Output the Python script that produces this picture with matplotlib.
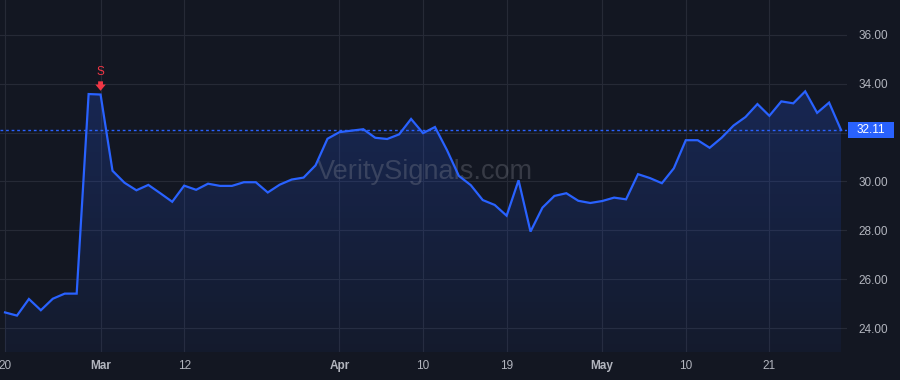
import matplotlib.pyplot as plt
import matplotlib.transforms as mtransforms
from matplotlib.patches import Rectangle
import numpy as np
import pandas as pd

# Trading days 2024-02-20 .. 2024-05-30 (US market, Good Friday and Memorial Day closed)
holidays = ["2024-03-29", "2024-05-27"]
dates = pd.bdate_range("2024-02-20", "2024-05-30", freq="C", holidays=holidays)

prices = [
    24.64, 24.51, 25.19, 24.73, 25.20, 25.41, 25.41, 33.58, 33.56, 30.44,
    29.95, 29.64, 29.86, 29.52, 29.17, 29.83, 29.66, 29.91, 29.82, 29.82,
    29.97, 29.97, 29.55, 29.87, 30.08, 30.16, 30.66, 31.75, 32.02, 32.08,
    32.14, 31.79, 31.74, 31.93, 32.56, 31.98, 32.23, 31.29, 30.23, 29.85,
    29.24, 29.04, 28.60, 30.05, 27.95, 28.93, 29.41, 29.52, 29.21, 29.12,
    29.20, 29.34, 29.27, 30.30, 30.14, 29.93, 30.54, 31.69, 31.69, 31.38,
    31.79, 32.29, 32.64, 33.17, 32.69, 33.28, 33.20, 33.69, 32.81, 33.23,
    32.11,
]

tick_dates = ["2024-02-20", "2024-03-01", "2024-03-12", "2024-04-01", "2024-04-10",
              "2024-04-19", "2024-05-01", "2024-05-10", "2024-05-21"]
tick_labels = ["20", "Mar", "12", "Apr", "10", "19", "May", "10", "21"]
month_labels = {"Mar", "Apr", "May"}

y_ticks = [24, 26, 28, 30, 32, 34, 36]

signal_date = "2024-03-01"
signal_text = "S"
watermark = "VeritySignals.com"

BG = "#131722"
GRID = "#262a36"
LINE = "#2962ff"
TEXT = "#b2b5be"
RED = "#f23645"

plt.rcParams["font.family"] = ["Liberation Sans", "DejaVu Sans"]

x = np.arange(len(prices))
y = np.array(prices)
last = prices[-1]

fig = plt.figure(figsize=(9, 3.8), dpi=100, facecolor=BG)
ax = fig.add_axes([0, 28 / 380, 847 / 900, 352 / 380])
ax.set_facecolor(BG)

ymin, ymax = 23.02, 37.43
ax.set_xlim(-0.42, 70.5)
ax.set_ylim(ymin, ymax)

# gradient fill under the line
grad = np.linspace(0, 1, 256).reshape(-1, 1)
rgba = np.zeros((256, 1, 4))
rgba[..., 0] = 0.16
rgba[..., 1] = 0.38
rgba[..., 2] = 1.0
rgba[..., 3] = 0.05 + 0.17 * grad
poly = ax.fill_between(x, y, ymin, color="none", lw=0)
img = ax.imshow(rgba, aspect="auto", extent=[x[0], x[-1], ymin, y.max()],
                origin="lower", zorder=1)
img.set_clip_path(poly.get_paths()[0], transform=ax.transData)

ax.plot(x, y, color=LINE, lw=1.6, zorder=3, solid_joinstyle="miter")

# last price line and label (the label box hides the tick label under it)
ax.axhline(last, color=LINE, lw=1, ls=(0, (2, 2)), zorder=2)
blend = mtransforms.blended_transform_factory(ax.transAxes, ax.transData)
box_h = 16 / 24.42
ax.add_patch(Rectangle((1.001, last - box_h / 2), 46 / 847, box_h, transform=blend,
                       fc=LINE, ec="none", clip_on=False, zorder=6))
ax.text(1.001 + 23 / 847, last, f"{last:.2f}", transform=blend,
        ha="center", va="center", color="white", fontsize=8.5, zorder=7)

# sell signal
sx = dates.get_loc(pd.Timestamp(signal_date))
ax.annotate("", xy=(sx, prices[sx]), xytext=(0, 9.5),
            textcoords="offset points", xycoords="data",
            arrowprops=dict(arrowstyle="simple,head_width=0.75,head_length=0.45,tail_width=0.35",
                            color=RED, lw=0, shrinkA=0, shrinkB=2.7))
ax.annotate(signal_text, xy=(sx, prices[sx]), xytext=(0, 12),
            textcoords="offset points", ha="center", va="bottom",
            color=RED, fontsize=8.5)

# watermark
ax.text(0.502, 0.511, watermark, transform=ax.transAxes, ha="center", va="center",
        color="#9598a1", alpha=0.28, fontsize=19.5, zorder=2)

# axes styling
tick_pos = [dates.get_loc(pd.Timestamp(d)) for d in tick_dates]
ax.set_xticks(tick_pos)
ax.set_xticklabels(tick_labels)
for lbl in ax.get_xticklabels():
    if lbl.get_text() in month_labels:
        lbl.set_fontweight("bold")
ax.set_yticks(y_ticks)
ax.set_yticklabels(["" if abs(v - last) < 0.5 else f"{v:.2f}" for v in y_ticks])
ax.yaxis.tick_right()
ax.tick_params(axis="both", length=0, colors=TEXT, labelsize=8.5)
ax.tick_params(axis="y", pad=8)
ax.tick_params(axis="x", pad=6)
ax.grid(True, color=GRID, lw=0.8, zorder=0)
ax.set_axisbelow(True)
for s in ax.spines.values():
    s.set_visible(False)

fig.savefig("out.png", dpi=100, facecolor=BG)
